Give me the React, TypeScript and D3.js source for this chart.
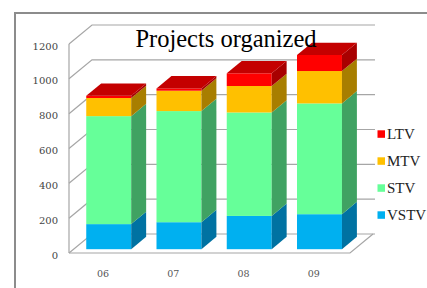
import * as d3 from 'd3';

const years = ['06', '07', '08', '09'];
const seriesNames = ['VSTV', 'STV', 'MTV', 'LTV'];
const vstv = [144, 155, 191, 201];
const stv = [620, 638, 594, 636];
const mtv = [104, 117, 152, 186];
const ltv = [13, 13, 73, 92];
const yTicks = [0, 200, 400, 600, 800, 1000, 1200];

const frontColors = ['#00B0F0', '#66FF99', '#FFC000', '#FF0000'];
const sideColors = ['#0072A2', '#40A262', '#A87E00', '#A80000'];
const topColor = '#C40000';

const W = 427;
const H = 288;
const serif = { fontFamily: 'Liberation Serif, serif' };
const wideSerif = { fontFamily: 'DejaVu Serif, serif' };

// depth of the 3d box (front plane -> back wall)
const wallDx = 23;
const wallDy = -19;
const barD0 = 0.2;
const barD1 = 0.85;

export default function App() {
  const rows = years.map((y, i) => ({ year: y, VSTV: vstv[i], STV: stv[i], MTV: mtv[i], LTV: ltv[i] }));
  const stacked = d3.stack<any>().keys(seriesNames)(rows);

  const x = d3.scaleBand().domain(years).range([69, 350]).paddingInner(0.36).paddingOuter(0.18);
  const y = d3.scaleLinear().domain([0, 1200]).range([253, 44]);

  const x0 = x.range()[0];
  const x1 = x.range()[1];
  const pts = (p: [number, number][]) => p.map(q => q.join(',')).join(' ');

  const bdx0 = wallDx * barD0, bdy0 = wallDy * barD0;
  const sdx = wallDx * (barD1 - barD0), sdy = wallDy * (barD1 - barD0);

  return (
    <svg width={W} height={H} style={{ position: 'absolute', left: 0, top: 0, background: '#fff' }}>
      {/* outer chart border */}
      <rect x={15} y={13} width={W + 20} height={H + 20} fill="#fff" stroke="#8c8c8c" strokeWidth={2} />

      {/* walls and gridlines */}
      <g fill="none" stroke="#a6a6a6" strokeWidth={1.2}>
        <line x1={x0} x2={x0} y1={y(1200)} y2={y(0)} />
        {yTicks.map(t => (
          <polyline key={t} points={pts([[x0, y(t)], [x0 + wallDx, y(t) + wallDy], [x1 + wallDx + 2, y(t) + wallDy]])} />
        ))}
        <polyline points={pts([[x0, y(0)], [x1, y(0)], [x1 + wallDx, y(0) + wallDy]])} />
      </g>

      {/* y tick labels */}
      <g style={wideSerif} fontSize={10} fill="#444" textAnchor="end">
        {yTicks.map(t => (
          <text key={t} x={58} y={y(t) + 2} dy="0.35em">{t}</text>
        ))}
      </g>

      {/* bars */}
      {years.map((yr, i) => {
        const left = x(yr)! + bdx0;
        const right = left + x.bandwidth();
        return (
          <g key={yr}>
            {stacked.map((s, k) => {
              const yb = y(s[i][0]) + bdy0;
              const yt = y(s[i][1]) + bdy0;
              return (
                <g key={s.key}>
                  <rect x={left} y={yt} width={x.bandwidth()} height={yb - yt} fill={frontColors[k]} />
                  <polygon points={pts([[right, yb], [right + sdx, yb + sdy], [right + sdx, yt + sdy], [right, yt]])} fill={sideColors[k]} />
                </g>
              );
            })}
            {(() => {
              const yt = y(stacked[stacked.length - 1][i][1]) + bdy0;
              return <polygon points={pts([[left, yt], [right, yt], [right + sdx, yt + sdy], [left + sdx, yt + sdy]])} fill={topColor} />;
            })()}
          </g>
        );
      })}

      {/* x labels */}
      <g style={wideSerif} fontSize={9.5} fill="#555" textAnchor="middle">
        {years.map(yr => (
          <text key={yr} x={x(yr)! + x.bandwidth() / 2 - 1} y={273.5} dy="0.35em">{yr}</text>
        ))}
      </g>

      {/* title */}
      <text x={226} y={47} style={serif} fontSize={24.5} fill="#000" textAnchor="middle">Projects organized</text>

      {/* legend */}
      <g style={serif} fontSize={15} fill="#222">
        {seriesNames.slice().reverse().map((name, j) => {
          const k = seriesNames.length - 1 - j;
          const cy = 134 + j * 27;
          return (
            <g key={name}>
              <rect x={377.5} y={cy - 3.7} width={7.5} height={7.5} fill={frontColors[k]} />
              <text x={387} y={cy} dy="0.35em">{name}</text>
            </g>
          );
        })}
      </g>
    </svg>
  );
}
